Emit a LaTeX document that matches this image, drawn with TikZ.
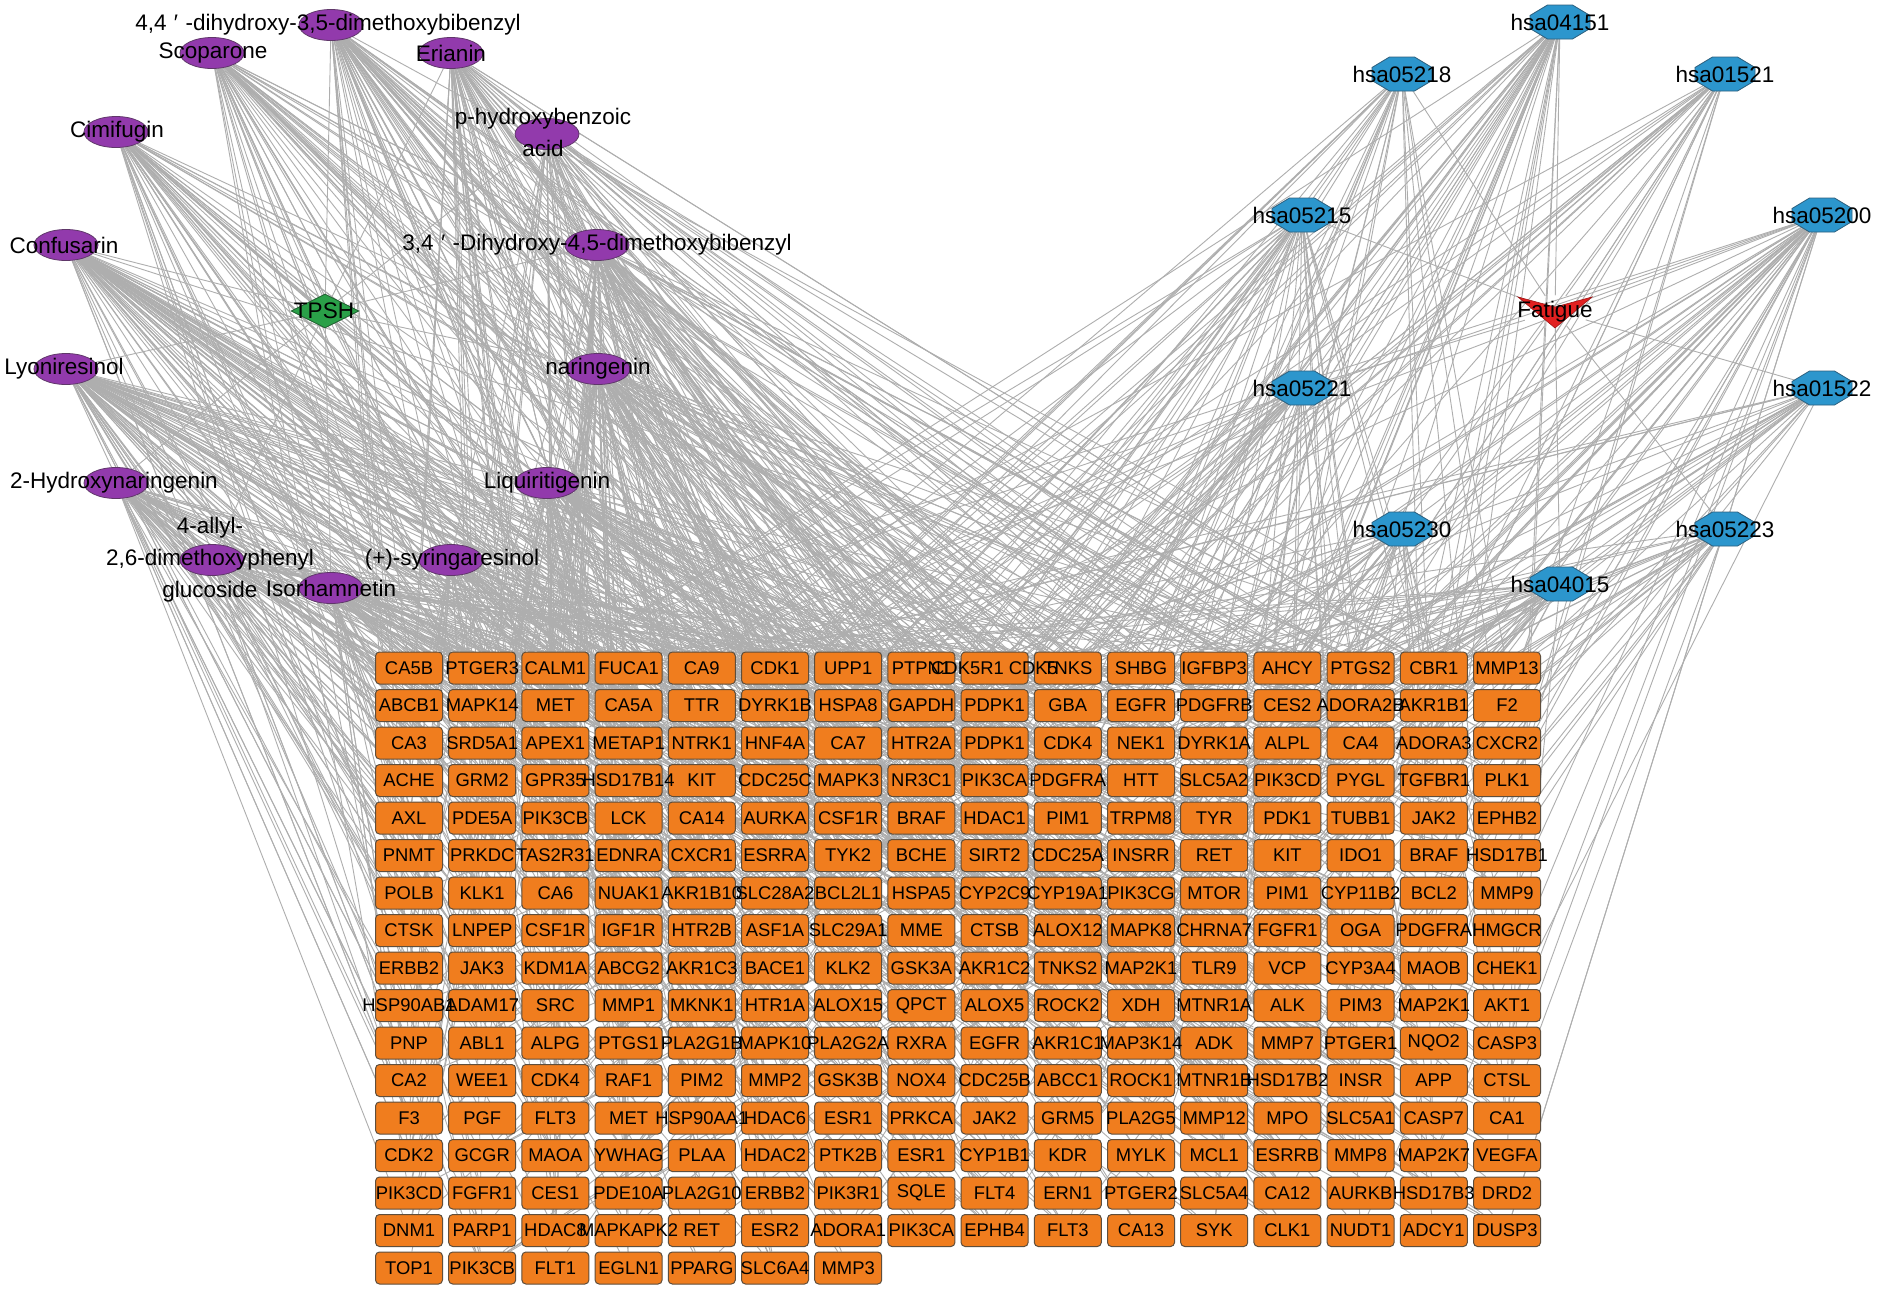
\documentclass[tikz,border=0pt]{standalone}
\usepackage{fontspec}
\setmainfont{Liberation Sans}
\usetikzlibrary{shapes.geometric}
\pgfdeclarelayer{bg}
\pgfsetlayers{bg,main}
\definecolor{tor}{RGB}{240,125,30}
\definecolor{tbd}{RGB}{95,78,60}
\definecolor{cpu}{RGB}{146,58,172}
\definecolor{cbd}{RGB}{95,55,105}
\definecolor{pbl}{RGB}{44,150,205}
\definecolor{pbd}{RGB}{45,95,125}
\definecolor{dgr}{RGB}{42,160,72}
\definecolor{dbd}{RGB}{30,90,45}
\definecolor{fred}{RGB}{226,32,32}
\definecolor{edg}{RGB}{174,174,174}
\tikzset{
  tbox/.style={rectangle, rounded corners=4pt, minimum width=67pt, minimum height=32pt, inner sep=0pt, fill=tor, draw=tbd, line width=1pt},
  tlab/.style={inner sep=0pt, font=\fontsize{18.4}{22}\selectfont, text=black},
  cnode/.style={ellipse, minimum width=64pt, minimum height=31pt, inner sep=0pt, fill=cpu, draw=cbd, line width=0.8pt},
  blab/.style={inner sep=0pt, align=center, font=\fontsize{22.5}{32}\selectfont, text=black},
  pnode/.style={ellipse, minimum width=60pt, minimum height=33pt, inner sep=0pt},
  octa/.style={fill=pbl, draw=pbd, line width=0.8pt},
  dnode/.style={diamond, minimum width=68pt, minimum height=34pt, inner sep=0pt, fill=dgr, draw=dbd, line width=0.8pt},
  fnode/.style={ellipse, minimum width=74pt, minimum height=31pt, inner sep=0pt},
  edge/.style={draw=edg, line width=0.9pt},
}
\def\tlist{CA5B,PTGER3,CALM1,FUCA1,CA9,CDK1,UPP1,PTPN1,CDK5R1 CDK5,TNKS,SHBG,IGFBP3,AHCY,PTGS2,CBR1,MMP13,
ABCB1,MAPK14,MET,CA5A,TTR,DYRK1B,HSPA8,GAPDH,PDPK1,GBA,EGFR,PDGFRB,CES2,ADORA2B,AKR1B1,F2,
CA3,SRD5A1,APEX1,METAP1,NTRK1,HNF4A,CA7,HTR2A,PDPK1,CDK4,NEK1,DYRK1A,ALPL,CA4,ADORA3,CXCR2,
ACHE,GRM2,GPR35,HSD17B14,KIT,CDC25C,MAPK3,NR3C1,PIK3CA,PDGFRA,HTT,SLC5A2,PIK3CD,PYGL,TGFBR1,PLK1,
AXL,PDE5A,PIK3CB,LCK,CA14,AURKA,CSF1R,BRAF,HDAC1,PIM1,TRPM8,TYR,PDK1,TUBB1,JAK2,EPHB2,
PNMT,PRKDC,TAS2R31,EDNRA,CXCR1,ESRRA,TYK2,BCHE,SIRT2,CDC25A,INSRR,RET,KIT,IDO1,BRAF,HSD17B1,
POLB,KLK1,CA6,NUAK1,AKR1B10,SLC28A2,BCL2L1,HSPA5,CYP2C9,CYP19A1,PIK3CG,MTOR,PIM1,CYP11B2,BCL2,MMP9,
CTSK,LNPEP,CSF1R,IGF1R,HTR2B,ASF1A,SLC29A1,MME,CTSB,ALOX12,MAPK8,CHRNA7,FGFR1,OGA,PDGFRA,HMGCR,
ERBB2,JAK3,KDM1A,ABCG2,AKR1C3,BACE1,KLK2,GSK3A,AKR1C2,TNKS2,MAP2K1,TLR9,VCP,CYP3A4,MAOB,CHEK1,
HSP90AB1,ADAM17,SRC,MMP1,MKNK1,HTR1A,ALOX15,QPCT,ALOX5,ROCK2,XDH,MTNR1A,ALK,PIM3,MAP2K1,AKT1,
PNP,ABL1,ALPG,PTGS1,PLA2G1B,MAPK10,PLA2G2A,RXRA,EGFR,AKR1C1,MAP3K14,ADK,MMP7,PTGER1,NQO2,CASP3,
CA2,WEE1,CDK4,RAF1,PIM2,MMP2,GSK3B,NOX4,CDC25B,ABCC1,ROCK1,MTNR1B,HSD17B2,INSR,APP,CTSL,
F3,PGF,FLT3,MET,HSP90AA1,HDAC6,ESR1,PRKCA,JAK2,GRM5,PLA2G5,MMP12,MPO,SLC5A1,CASP7,CA1,
CDK2,GCGR,MAOA,YWHAG,PLAA,HDAC2,PTK2B,ESR1,CYP1B1,KDR,MYLK,MCL1,ESRRB,MMP8,MAP2K7,VEGFA,
PIK3CD,FGFR1,CES1,PDE10A,PLA2G10,ERBB2,PIK3R1,SQLE,FLT4,ERN1,PTGER2,SLC5A4,CA12,AURKB,HSD17B3,DRD2,
DNM1,PARP1,HDAC8,MAPKAPK2,RET,ESR2,ADORA1,PIK3CA,EPHB4,FLT3,CA13,SYK,CLK1,NUDT1,ADCY1,DUSP3,
TOP1,PIK3CB,FLT1,EGLN1,PPARG,SLC6A4,MMP3}
\begin{document}
\begin{tikzpicture}[x=1pt,y=-1pt]
\useasboundingbox (0,0) rectangle (1880,1291);

% target boxes
\foreach \i in {1,...,263} {
  \pgfmathtruncatemacro\rr{div(\i-1,16)}
  \pgfmathtruncatemacro\cc{mod(\i-1,16)}
  \node[tbox] (t\i) at ({409+73.2*\cc},{668+37.5*\rr}) {};
}
% target labels
\foreach \lab [count=\i] in \tlist {
  \node[tlab] at (t\i) {\lab};
}

% compounds
\foreach \x/\y [count=\i] in {331/25,212/53,451/53,547/134,116/132,66/245,597/245,66/369,598/369,116/483,547/483,212/560,451/560,331/588} {
  \node[cnode] (c\i) at (\x,\y) {};
}
\node[blab] at (328,25) {4,4\kern0.33em′\kern0.33em-dihydroxy-3,5-dimethoxybibenzyl};
\node[blab] at (213,53) {Scoparone};
\node[blab] at (451,53) {Erianin};
\node[blab] at (543,132) {p-hydroxybenzoic\\acid};
\node[blab] at (117,132) {Cimifugin};
\node[blab] at (64,245) {Confusarin};
\node[blab] at (597,245) {3,4\kern0.33em′\kern0.33em-Dihydroxy-4,5-dimethoxybibenzyl};
\node[blab] at (64,369) {Lyoniresinol};
\node[blab] at (598,369) {naringenin};
\node[blab] at (114,483) {2-Hydroxynaringenin};
\node[blab] at (547,483) {Liquiritigenin};
\node[blab] at (210,560) {4-allyl-\\2,6-dimethoxyphenyl\\glucoside};
\node[blab] at (452,560) {(+)-syringaresinol};
\node[blab] at (331,588) {Isorhamnetin};

% drug
\node[dnode] (tp) at (325,311) {};
\node[blab] at (324,311) {TPSH};

% pathways
\foreach \nm/\x/\y [count=\i] in {hsa04151/1560/22,hsa05218/1402/74,hsa01521/1725/74,hsa05215/1302/215,hsa05200/1822/215,hsa05221/1302/388,hsa01522/1822/388,hsa05230/1402/529,hsa05223/1725/529,hsa04015/1560/584} {
  \filldraw[octa, shift={(\x,\y)}] (-30,-6.5) -- (-12.5,-17) -- (12.5,-17) -- (30,-6.5) -- (30,6.5) -- (12.5,17) -- (-12.5,17) -- (-30,6.5) -- cycle;
  \node[pnode] (p\i) at (\x,\y) {};
  \node[blab] at (\x,\y) {\nm};
}

% disease
\node[fnode] (fat) at (1555,311) {};
\filldraw[fill=fred, draw=fred!70!black, line width=0.6pt] (1518,297) -- (1555,307) -- (1592,297) -- (1555,328) -- cycle;
\node[blab] at (1555,312) {Fatigue};

% edges
\begin{pgfonlayer}{bg}
  \fill[white] (0,0) rectangle (1880,1291);
  \foreach \k in {1,...,14} { \draw[edge] (tp) -- (c\k); }
  \foreach \k in {1,...,10} { \draw[edge] (fat) -- (p\k); }
  \pgfmathsetseed{7}
  \foreach \k/\nn in {1/60,2/48,3/55,4/42,5/48,6/72,7/66,8/78,9/72,10/54,11/66,12/42,13/48,14/54} {
    \foreach \j in {1,...,\nn} {
      \pgfmathrandominteger{\ti}{1}{263}
      \draw[edge] (c\k) -- (t\ti);
    }
  }
  \foreach \k/\nn in {1/40,2/25,3/25,4/32,5/40,6/25,7/23,8/29,9/23,10/34} {
    \foreach \j in {1,...,\nn} {
      \pgfmathrandominteger{\ti}{1}{263}
      \draw[edge] (p\k) -- (t\ti);
    }
  }
\end{pgfonlayer}
\end{tikzpicture}
\end{document}
